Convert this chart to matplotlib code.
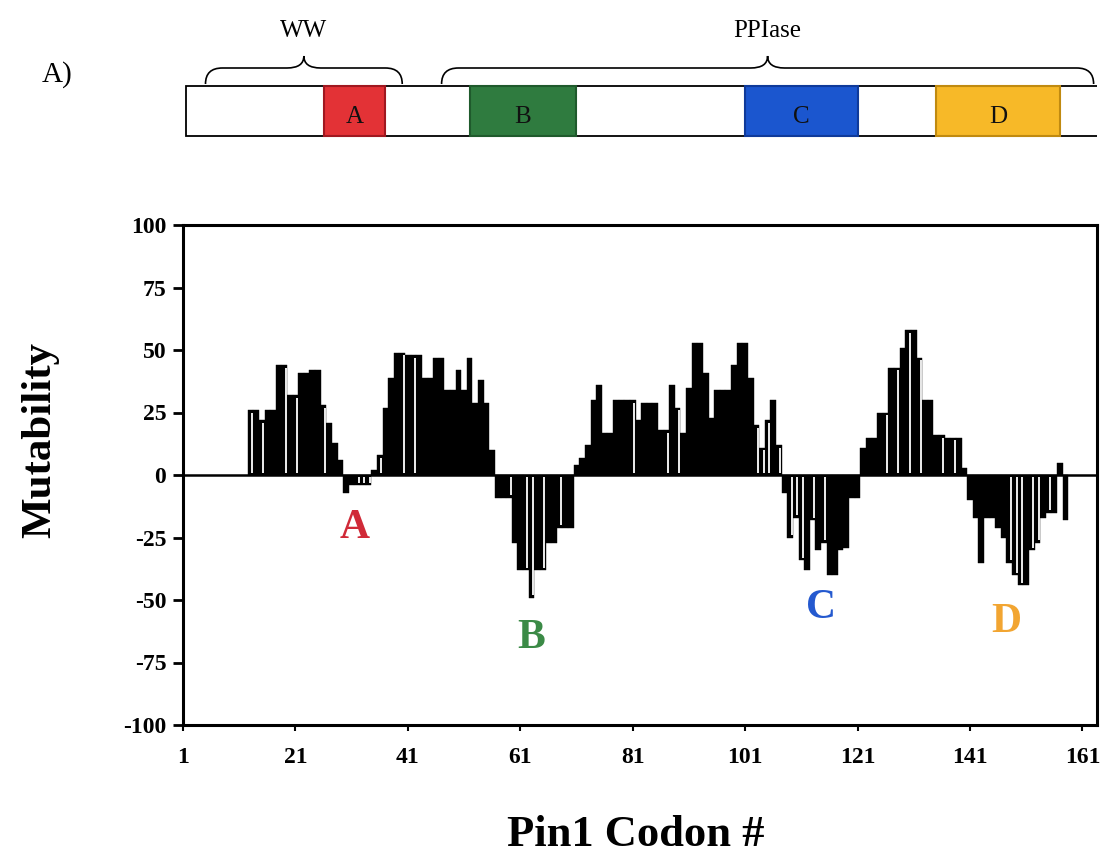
import matplotlib
matplotlib.use("Agg")
import matplotlib.pyplot as plt
from matplotlib.patches import Rectangle, PathPatch
from matplotlib.path import Path

plt.rcParams['font.family'] = ['Liberation Serif', 'DejaVu Serif']
plt.rcParams['axes.unicode_minus'] = False

# per-codon mutability, codons 13..158
codons = list(range(13, 159))
mutability = [
    26, 26, 22, 26, 26, 44, 44, 32, 32, 41,      # 13-22
    41, 42, 42, 28, 21, 13, 6, -7, -4, -4,       # 23-32
    -4, -4, 2, 8, 27, 39, 49, 49, 48, 48,        # 33-42
    48, 39, 39, 47, 47, 34, 34, 42, 34, 47,      # 43-52
    29, 38, 29, 10, -9, -9, -9, -27, -38, -38,   # 53-62
    -49, -38, -38, -27, -27, -21, -21, -21, 4, 7,  # 63-72
    12, 30, 36, 17, 17, 30, 30, 30, 30, 22,      # 73-82
    29, 29, 29, 18, 18, 36, 27, 17, 35, 53,      # 83-92
    53, 41, 23, 34, 34, 34, 44, 53, 53, 39,      # 93-102
    20, 11, 22, 30, 12, -7, -25, -17, -34, -38,  # 103-112
    -18, -30, -27, -40, -40, -30, -29, -9, -9, 11,  # 113-122
    15, 15, 25, 25, 43, 43, 51, 58, 58, 47,      # 123-132
    30, 30, 16, 16, 15, 15, 15, 3, -10, -17,     # 133-142
    -35, -17, -17, -21, -25, -35, -40, -44, -44, -30,  # 143-152
    -27, -17, -15, -15, 5, -18,                  # 153-158
]
# bars drawn with a white inner stripe in the original
outlined = [13, 15, 19, 21, 26, 32, 33, 34, 36, 40, 42, 59, 62, 63, 65, 68,
            81, 87, 89, 103, 104, 105, 107, 109, 110, 111, 113, 115, 126, 128,
            130, 132, 136, 138, 148, 149, 150, 152, 153, 155]

x_ticks = [1, 21, 41, 61, 81, 101, 121, 141, 161]
y_ticks = [-100, -75, -50, -25, 0, 25, 50, 75, 100]

region_names = ['A', 'B', 'C', 'D']
region_start = [26, 52, 101, 135]
region_end = [37, 71, 121, 157]
region_fill = ['#e33236', '#2f7b3f', '#1b56cf', '#f7b928']
region_edge = ['#a01820', '#1f5a2c', '#0f3a9a', '#c08a10']
region_text = ['#d02a38', '#3b8a46', '#2459cf', '#f2a531']
region_label_x = [31.5, 63, 114.5, 147.5]
region_label_y = [-21, -65, -53, -59]

domain_names = ['WW', 'PPIase']
domain_start = [5, 47]
domain_end = [40, 163]
protein_length = 163

fig = plt.figure(figsize=(11.01, 8.61), dpi=100)
left, width = 183 / 1101, 914 / 1101
ax = fig.add_axes([left, 1 - 725 / 861, width, 500 / 861])

ax.bar(codons, mutability, width=1.0, color='black', edgecolor='black', linewidth=0.3)
for c, v in zip(codons, mutability):
    if c in outlined:
        s = 1 if v >= 0 else -1
        ax.vlines(c + 0.28, s * 0.8, v - s * 1.0, color='white', linewidth=1.3)
ax.axhline(0, color='black', linewidth=1.8)

ax.set_xlim(1, 163.6)
ax.set_ylim(-100, 100)
ax.set_xticks(x_ticks)
ax.set_xticklabels([str(t) for t in x_ticks], fontsize=17, fontweight='bold')
ax.set_yticks(y_ticks)
ax.set_yticklabels([str(t) for t in y_ticks], fontsize=17, fontweight='bold')
ax.tick_params(axis='y', direction='out', length=7, width=2, pad=5)
ax.tick_params(axis='x', direction='out', length=4, width=1.5, pad=12)
for sp in ax.spines.values():
    sp.set_linewidth(2.2)

ax.set_ylabel('Mutability', fontsize=31, fontweight='bold')
ax.yaxis.set_label_coords(-0.135, 0.57)
ax.set_xlabel('Pin1 Codon #', fontsize=32, fontweight='bold')
ax.xaxis.set_label_coords(0.495, -0.18)

for name, lx, ly, col in zip(region_names, region_label_x, region_label_y, region_text):
    ax.text(lx, ly, name, color=col, fontsize=30, fontweight='bold',
            ha='center', va='center')

# domain diagram on top
top = fig.add_axes([left, 1 - 150 / 861, width, 150 / 861])
top.set_xlim(1, 163.6)
top.set_ylim(150, 0)
top.axis('off')

top.add_patch(Rectangle((1.5, 86), protein_length, 50, facecolor='white',
                        edgecolor='black', linewidth=1.3))
for name, s, e, fc, ec in zip(region_names, region_start, region_end, region_fill, region_edge):
    top.add_patch(Rectangle((s, 86), e - s, 50, facecolor=fc, edgecolor=ec, linewidth=1.5))
    top.text((s + e) / 2, 117, name, fontsize=18, ha='center', va='center', color='#111111')

yb, yt, ytip, r = 84, 68, 56, 3
for name, x0, x1 in zip(domain_names, domain_start, domain_end):
    xm = (x0 + x1) / 2
    verts = [(x0, yb), (x0, yt), (x0 + r, yt), (xm - r, yt), (xm, yt), (xm, ytip),
             (xm, yt), (xm + r, yt), (x1 - r, yt), (x1, yt), (x1, yb)]
    codes = [Path.MOVETO, Path.CURVE3, Path.CURVE3, Path.LINETO, Path.CURVE3, Path.CURVE3,
             Path.CURVE3, Path.CURVE3, Path.LINETO, Path.CURVE3, Path.CURVE3]
    top.add_patch(PathPatch(Path(verts, codes), facecolor='none', edgecolor='black', linewidth=1.2))
    top.text(xm, 31, name, fontsize=18, ha='center', va='center')

fig.text(57 / 1101, 1 - 75 / 861, 'A)', fontsize=21, ha='center', va='center')

fig.savefig('out.png', dpi=100)
